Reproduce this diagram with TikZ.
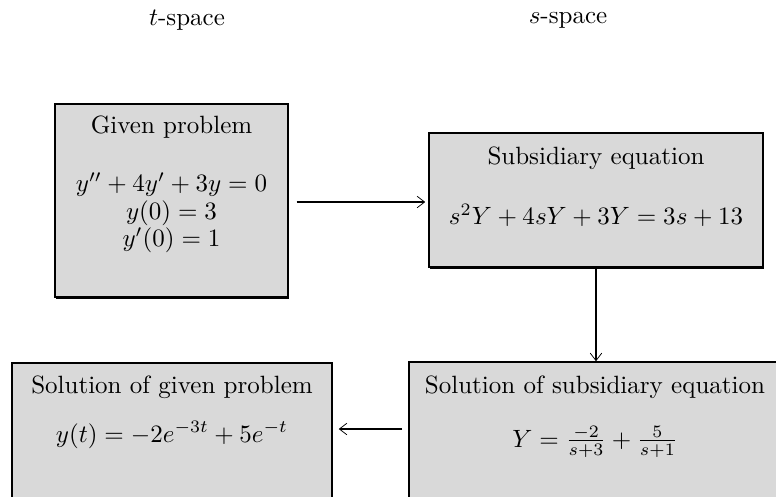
\documentclass[tikz,border=0pt]{standalone}
\usetikzlibrary{arrows.meta,shadows}
\definecolor{boxgray}{HTML}{D9D9D9}
\begin{document}
\begin{tikzpicture}[x=0.4pt,y=-0.4pt,
  boxstyle/.style={draw=black, line width=0.6pt, fill=boxgray, rectangle,
    inner sep=0pt, drop shadow={shadow xshift=0.6pt, shadow yshift=-0.6pt, fill=black, opacity=1}},
  conn/.style={line width=1.1pt, -{Straight Barb[length=3pt,width=4.6pt,line width=0.3pt]}},
  lbl/.style={inner sep=0pt, align=center}]
\clip (0,0) rectangle (776,496);
\fill[white] (0,0) rectangle (776,496);
% boxes
\node[boxstyle, minimum width=233*0.4pt, minimum height=193*0.4pt] (given) at (171.5,200.5) {};
\node[boxstyle, minimum width=334*0.4pt, minimum height=134*0.4pt] (subs) at (596,200) {};
\node[boxstyle, minimum width=376*0.4pt, minimum height=170*0.4pt] (solsub) at (597,447) {};
\node[boxstyle, minimum width=320*0.4pt, minimum height=170*0.4pt] (solgiv) at (172,448) {};
\coordinate (ytop) at (0,202);
\coordinate (ybot) at (0,429);
% headings
\node[lbl] (tsp) at (187,20) {$t$-space};
\node[lbl] (ssp) at (568,20) {$s$-space};
% texts
\node[lbl] (g1) at (171.5,127) {Given problem};
\node[lbl] (g2) at (171.5,213) {$y''+4y'+3y=0$\\[-1pt] $y(0)=3$\\[-1pt] $y'(0)=1$};
\node[lbl] (s1) at (596,158) {Subsidiary equation};
\node[lbl] (s2) at (596,215) {$s^2Y+4sY+3Y=3s+13$};
\node[lbl] (ss1) at (595,387) {Solution of subsidiary equation};
\node[lbl] (ss2) at (595,442) {$Y=\frac{-2}{s+3}+\frac{5}{s+1}$};
\node[lbl] (sg1) at (172,387) {Solution of given problem};
\node[lbl] (sg2) at (172,435) {$y(t)=-2e^{-3t}+5e^{-t}$};
% connectors
\draw[conn] ([xshift=8*0.4pt]given.east |- ytop) -- ([xshift=-3*0.4pt]subs.west |- ytop);
\draw[conn] (subs.south) -- (subs.south |- solsub.north);
\draw[conn] ([xshift=-6*0.4pt]solsub.west |- ybot) -- ([xshift=6*0.4pt]solgiv.east |- ybot);
\end{tikzpicture}
\end{document}
